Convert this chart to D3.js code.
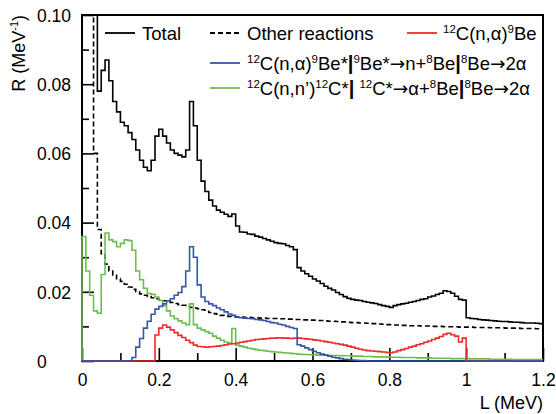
<!DOCTYPE html>
<html><head><meta charset="utf-8">
<script src="https://cdn.jsdelivr.net/npm/d3@7"></script>
<style>body{margin:0;background:#fff}svg{display:block}text{font-family:"Liberation Sans",Arial,sans-serif;fill:#000}</style>
</head><body>
<script>
// ---- data (bin width 0.01 MeV, 120 bins from 0 to 1.2 MeV) ----
const binWidth = 0.01;
const xTicks = [0, 0.2, 0.4, 0.6, 0.8, 1, 1.2];
const xTickLabels = ["0", "0.2", "0.4", "0.6", "0.8", "1", "1.2"];
const yTicks = [0, 0.02, 0.04, 0.06, 0.08, 0.10];
const yTickLabels = ["0", "0.02", "0.04", "0.06", "0.08", "0.10"];
const xMinorTicks = [0.1, 0.3, 0.5, 0.7, 0.9, 1.1];
const yMinorTicks = [0.01, 0.03, 0.05, 0.07, 0.09];

const total = [
0.6,0.35,0.16,0.105,0.078,0.084,0.087,0.081,0.075,0.072,
0.069,0.068,0.066,0.064,0.061,0.058,0.056,0.055,0.058,0.065,
0.067,0.065,0.063,0.061,0.060,0.0595,0.059,0.061,0.075,0.068,
0.058,0.052,0.049,0.0465,0.0448,0.0436,0.043,0.0424,0.0418,0.0425,
0.039,0.0373,0.0372,0.0367,0.0366,0.0361,0.0358,0.0354,0.035,0.0346,
0.0342,0.034,0.0339,0.0334,0.033,0.0322,0.027,0.026,0.0252,0.0245,
0.0237,0.0231,0.0224,0.0216,0.021,0.0205,0.0198,0.0192,0.0186,0.0181,
0.0178,0.0176,0.0175,0.0172,0.017,0.0168,0.0166,0.0163,0.016,0.0158,
0.0155,0.016,0.0163,0.0165,0.0167,0.017,0.0172,0.0175,0.0178,0.018,
0.0185,0.0188,0.0192,0.0196,0.0203,0.0201,0.0196,0.0187,0.0178,0.0176,
0.0125,0.0123,0.0122,0.012,0.0119,0.0118,0.0117,0.0116,0.0115,0.0114,
0.0114,0.0113,0.0112,0.0112,0.0111,0.011,0.011,0.011,0.0109,0.0108];

const other = [
0.5,0.3,0.15,0.06,0.038,0.031,0.028,0.026,0.0248,0.0238,
0.023,0.0222,0.0214,0.0207,0.02,0.0194,0.019,0.0186,0.0183,0.018,
0.0177,0.0174,0.0171,0.0169,0.0166,0.0163,0.0161,0.0158,0.0155,0.0153,
0.0151,0.0148,0.0144,0.014,0.0137,0.0135,0.0132,0.013,0.0129,0.0128,
0.0127,0.0127,0.0126,0.0126,0.0125,0.0125,0.0124,0.0124,0.0123,0.0123,
0.0123,0.0122,0.0122,0.0121,0.0121,0.012,0.012,0.0119,0.0119,0.0118,
0.0118,0.0117,0.0117,0.0116,0.0115,0.0115,0.0114,0.0113,0.0113,0.0112,
0.0111,0.0111,0.011,0.011,0.0109,0.0108,0.0108,0.0107,0.0106,0.0105,
0.0105,0.0104,0.0104,0.0103,0.0103,0.0102,0.0102,0.0102,0.0101,0.0101,
0.0101,0.01,0.01,0.01,0.0099,0.0099,0.0099,0.0099,0.0098,0.0098,
0.0098,0.0098,0.0097,0.0097,0.0097,0.0097,0.0096,0.0096,0.0096,0.0096,
0.0095,0.0095,0.0095,0.0095,0.0094,0.0094,0.0094,0.0094,0.0093,0.0093];

const inelastic = [
0.036,0.026,0.019,0.0145,0.0138,0.025,0.037,0.035,0.0345,0.033,
0.034,0.035,0.0348,0.032,0.026,0.0235,0.021,0.0195,0.0193,0.0185,
0.0175,0.016,0.0145,0.013,0.0122,0.0116,0.011,0.0105,0.0165,0.0105,
0.0095,0.009,0.0085,0.008,0.0072,0.0066,0.006,0.0055,0.0052,0.0094,
0.0046,0.0043,0.004,0.0037,0.0035,0.0033,0.0031,0.003,0.0028,0.0027,
0.0026,0.0025,0.0024,0.0023,0.0022,0.0021,0.002,0.0019,0.0019,0.0018,
0.0018,0.0017,0.0017,0.0017,0.0016,0.0016,0.0016,0.0015,0.0015,0.0015,
0.0014,0.0014,0.0014,0.0013,0.0013,0.0013,0.0012,0.0012,0.0012,0.0012,
0.0011,0.0011,0.0011,0.001,0.001,0.001,0.001,0.0009,0.0009,0.0009,
0.0009,0.0008,0.0008,0.0008,0.0008,0.0008,0.0007,0.0007,0.0007,0.0007,
0.0007,0.0006,0.0006,0.0006,0.0006,0.0006,0.0005,0.0005,0.0005,0.0005,
0.0005,0.0005,0.0004,0.0004,0.0004,0.0004,0.0004,0.0004,0.0004,0.0004];

const alphaExcited = [
0,0,0,0,0,0,0,0,0,0,
0,0,0,0.001,0.004,0.0065,0.0095,0.0115,0.0135,0.015,
0.0158,0.0165,0.0174,0.018,0.019,0.0198,0.0215,0.026,0.033,0.030,
0.022,0.0185,0.0172,0.0165,0.016,0.0153,0.0148,0.0142,0.0136,0.0132,
0.0127,0.0125,0.0124,0.0123,0.0122,0.012,0.0119,0.0117,0.0114,0.0111,
0.011,0.0106,0.0104,0.01,0.0097,0.0094,0.0047,0.0043,0.0038,0.0033,
0.0028,0.0024,0.002,0.0017,0.0014,0.0011,0.0009,0.0007,0.0005,0.0004,
0.0003,0.0002,0.0001,0.0001,0,0,0,0,0,0,
0,0,0,0,0,0,0,0,0,0,
0,0,0,0,0,0,0,0,0,0,
0,0,0,0,0,0,0,0,0,0,
0,0,0,0,0,0,0,0,0,0];

const alphaGround = [
0,0,0,0,0,0,0,0,0,0,
0,0,0,0,0,0,0,0,0,0.0075,
0.0095,0.0104,0.0098,0.009,0.0082,0.0074,0.0068,0.006,0.0053,0.0046,
0.0042,0.0041,0.004,0.0041,0.0042,0.0043,0.0045,0.0047,0.0049,0.005,
0.0052,0.0054,0.0056,0.0058,0.006,0.0062,0.0063,0.0064,0.0065,0.0066,
0.0066,0.0067,0.0066,0.0066,0.0065,0.0066,0.0066,0.0065,0.0064,0.0063,
0.0061,0.006,0.0058,0.0056,0.0054,0.0052,0.005,0.0048,0.0046,0.0043,
0.004,0.0037,0.0034,0.0032,0.003,0.0029,0.0028,0.0027,0.0026,0.0025,
0.0024,0.0026,0.003,0.0033,0.0036,0.004,0.0043,0.0047,0.005,0.0054,
0.0058,0.0062,0.0066,0.0071,0.0077,0.008,0.0076,0.0072,0.0055,0.0066,
0,0,0,0,0,0,0,0,0,0,
0,0,0,0,0,0,0,0,0,0];

// ---- layout ----
const W = 556, H = 414;
const L = 82, R = 543, T = 15, B = 361;
const svg = d3.select("body").append("svg").attr("width", W).attr("height", H);
const x = d3.scaleLinear().domain([0, 1.2]).range([L, R]);
const y = d3.scaleLinear().domain([0, 0.1]).range([B, T]);
const fs = 17.5;

// frame
svg.append("rect").attr("x", L).attr("y", T).attr("width", R - L).attr("height", B - T)
  .attr("fill", "none").attr("stroke", "#000").attr("stroke-width", 2);

// axes
const gx = svg.append("g").attr("transform", `translate(0,${B})`)
  .call(d3.axisBottom(x).tickValues(xTicks).tickSize(-13).tickSizeOuter(0).tickPadding(8)
    .tickFormat((d, i) => xTickLabels[i]));
const gxm = svg.append("g").attr("transform", `translate(0,${B})`)
  .call(d3.axisBottom(x).tickValues(xMinorTicks).tickSize(-8).tickSizeOuter(0).tickFormat(""));
const gy = svg.append("g").attr("transform", `translate(${L},0)`)
  .call(d3.axisLeft(y).tickValues(yTicks).tickSize(-12).tickSizeOuter(0)
    .tickFormat((d, i) => yTickLabels[i]));
const gym = svg.append("g").attr("transform", `translate(${L},0)`)
  .call(d3.axisLeft(y).tickValues(yMinorTicks).tickSize(-7).tickSizeOuter(0).tickFormat(""));
[gx, gxm, gy, gym].forEach(g => {
  g.select(".domain").remove();
  g.selectAll(".tick line").attr("stroke", "#000").attr("stroke-width", 1.6);
  g.selectAll("text").style("font-size", fs + "px").attr("fill", "#000")
    .style("font-family", '"Liberation Sans",Arial,sans-serif');
});
gx.selectAll("text").attr("y", 13).attr("dy", "0.71em");
gy.selectAll("text").attr("x", 37 - L).attr("text-anchor", "start").attr("dy", "0.36em");

// axis titles
svg.append("text").attr("x", R).attr("y", 409).attr("text-anchor", "end")
  .style("font-size", "18px").text("L (MeV)");
const yt = svg.append("text").attr("transform", `translate(25,${T}) rotate(-90)`)
  .attr("text-anchor", "end").style("font-size", "18px");
yt.append("tspan").text("R (MeV");
yt.append("tspan").attr("dy", -7).style("font-size", "11px").text("-1");
yt.append("tspan").attr("dy", 7).text(")");

// histograms
svg.append("clipPath").attr("id", "clip").append("rect")
  .attr("x", L - 2).attr("y", T).attr("width", R - L + 2).attr("height", B - T + 3);
const line = d3.line().x(d => x(d[0])).y(d => y(d[1])).curve(d3.curveStepAfter);
function pts(vals) {
  const p = [[0, 0]];
  vals.forEach((v, i) => p.push([i * binWidth, v]));
  p.push([vals.length * binWidth, vals[vals.length - 1]]);
  return p;
}
const colors = { total: "#000", other: "#000", green: "#6cbf4c", red: "#ee2a2a", blue: "#3656a8" };
const gh = svg.append("g").attr("clip-path", "url(#clip)");
gh.append("path").attr("d", line(pts(other))).attr("fill", "none").attr("stroke", colors.other)
  .attr("stroke-width", 1.6).attr("stroke-dasharray", "5,3");
gh.append("path").attr("d", line(pts(total))).attr("fill", "none").attr("stroke", colors.total).attr("stroke-width", 1.6);
gh.append("path").attr("d", line(pts(inelastic))).attr("fill", "none").attr("stroke", colors.green).attr("stroke-width", 1.6);
gh.append("path").attr("d", line(pts(alphaGround))).attr("fill", "none").attr("stroke", colors.red).attr("stroke-width", 1.6);
gh.append("path").attr("d", line(pts(alphaExcited))).attr("fill", "none").attr("stroke", colors.blue).attr("stroke-width", 1.6);

// legend
const legendFs = 18.5;
function rich(g, xx, yy, segs) {
  const t = g.append("text").attr("x", xx).attr("y", yy).style("font-size", legendFs + "px");
  let shift = 0;
  segs.forEach(s => {
    const [txt, kind] = s;
    const sp = t.append("tspan");
    if (kind === "sup") {
      sp.attr("dy", -7 - shift).style("font-size", "11.5px"); shift = -7;
    } else {
      sp.attr("dy", -shift); shift = 0;
      if (kind === "bar") sp.style("font-weight", "bold").style("font-size", "20px");
      if (kind === "arrow") sp.style("font-family", '"DejaVu Sans",sans-serif');
    }
    sp.text(txt);
  });
}
const lg = svg.append("g");
function key(xx, yy, color, dash) {
  lg.append("line").attr("x1", xx).attr("x2", xx + 30).attr("y1", yy).attr("y2", yy)
    .attr("stroke", color).attr("stroke-width", 1.8).attr("stroke-dasharray", dash || null);
}
key(105, 33, colors.total);
rich(lg, 142, 40, [["Total"]]);
key(210, 33, colors.other, "5,3");
rich(lg, 247, 40, [["Other reactions"]]);
key(407, 33, colors.red);
rich(lg, 443, 40, [["12", "sup"], ["C(n,α)"], ["9", "sup"], ["Be"]]);
key(210, 63, colors.blue);
rich(lg, 247, 70, [["12", "sup"], ["C(n,α)"], ["9", "sup"], ["Be*"], ["|", "bar"], ["9", "sup"], ["Be*"], ["→", "arrow"], ["n+"], ["8", "sup"], ["Be"], ["|", "bar"], ["8", "sup"], ["Be"], ["→", "arrow"], ["2α"]]);
key(210, 88, colors.green);
rich(lg, 247, 95, [["12", "sup"], ["C(n,n’)"], ["12", "sup"], ["C*"], ["|", "bar"], [" "], ["12", "sup"], ["C*"], ["→", "arrow"], ["α+"], ["8", "sup"], ["Be"], ["|", "bar"], ["8", "sup"], ["Be"], ["→", "arrow"], ["2α"]]);
</script>
</body></html>
